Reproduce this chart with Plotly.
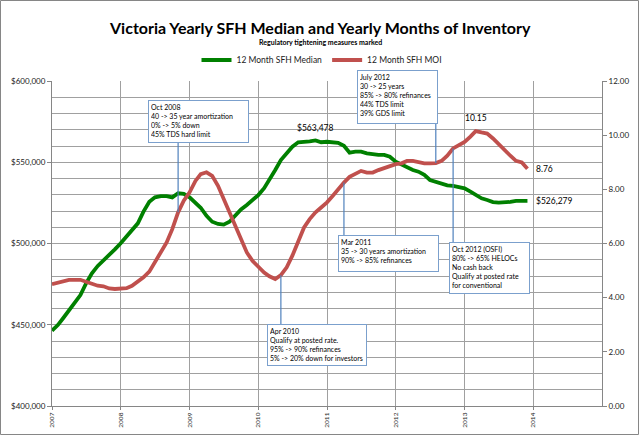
import pandas as pd
import plotly.graph_objects as go

# ---- data ----
months = pd.date_range("2007-01-01", periods=84, freq="MS")
median_k = [
    446.3, 449.8, 454.0, 459.0, 463.6, 468.3, 475.5, 481.6, 486.2, 489.4, 492.5, 496.4,
    500.1, 504.6, 508.3, 512.4, 519.6, 525.7, 528.4, 529.2, 529.2, 528.4, 530.9, 530.5,
    528.4, 525.1, 522.0, 517.0, 513.4, 512.0, 511.6, 513.4, 517.5, 521.0, 523.7, 526.8,
    529.8, 534.0, 539.1, 545.2, 551.4, 555.5, 559.6, 562.3, 562.5, 562.9, 563.478, 562.3,
    562.6, 562.3, 562.0, 560.2, 555.9, 556.5, 556.5, 555.5, 554.9, 554.5, 554.5, 553.4,
    550.3, 548.7, 546.6, 545.2, 544.2, 542.2, 539.1, 538.0, 536.6, 535.8, 535.4, 534.6,
    533.9, 531.9, 529.8, 527.8, 526.8, 525.5, 525.2, 525.2, 525.6, 526.2, 526.5, 526.279,
]
median = [v * 1000 for v in median_k]
moi = [
    4.50, 4.56, 4.62, 4.66, 4.66, 4.66, 4.59, 4.50, 4.44, 4.42, 4.34, 4.32,
    4.32, 4.35, 4.44, 4.59, 4.75, 4.96, 5.30, 5.67, 6.04, 6.53, 7.15, 7.58,
    7.89, 8.31, 8.56, 8.63, 8.50, 8.13, 7.64, 7.15, 6.59, 6.10, 5.67, 5.36,
    5.12, 4.93, 4.79, 4.69, 4.83, 5.12, 5.55, 6.10, 6.59, 6.90, 7.15, 7.33,
    7.52, 7.76, 8.01, 8.25, 8.46, 8.56, 8.68, 8.62, 8.62, 8.71, 8.78, 8.87,
    8.93, 8.96, 9.05, 9.05, 8.99, 8.96, 8.96, 8.97, 9.05, 9.24, 9.51, 9.63,
    9.75, 9.95, 10.15, 10.10, 10.06, 9.88, 9.67, 9.42, 9.24, 9.05, 8.99, 8.76,
]
year_ticks = [str(y) for y in range(2007, 2015)]

# callouts: (text lines, anchor month index on MOI curve)
callouts = [
    (["Oct 2008", "40 -> 35 year amortization", "0% -> 5% down", "45% TDS hard limit"], 22),
    (["July 2012", "30 -> 25 years", "85% -> 80% refinances", "44% TDS limit", "39% GDS limit"], 67),
    (["Apr 2010", "Qualify at posted rate.", "95% -> 90% refinances", "5% -> 20% down for investors"], 40),
    (["Mar 2011", "35 -> 30 years amortization", "90% -> 85% refinances"], 51),
    (["Oct 2012 (OSFI)", "80% -> 65% HELOCs", "No cash back", "Qualify at posted rate", "for conventional"], 70),
]
# box geometry in pixels: left, top, width, height ; connector end (box edge y)
box_px = [
    (148, 100, 101, 43, 143),
    (357, 70, 81, 54, 124),
    (267, 324, 100, 42, 324),
    (338, 235, 101, 37, 235),
    (449, 242, 81, 52, 242),
]

FONT = "Lato"
PL, PR, PT, PB = 52, 602, 81, 406  # plot area in px
W, H = 640, 436

def fx(px):
    return (px - PL) / (PR - PL)

def fy(py):
    return (PB - py) / (PB - PT)

fig = go.Figure()
fig.add_trace(go.Scatter(x=months, y=median, name="12 Month SFH Median", mode="lines",
                         line=dict(color="#008000", width=3.8), yaxis="y"))
fig.add_trace(go.Scatter(x=months, y=moi, name="12 Month SFH MOI", mode="lines",
                         line=dict(color="#C0504D", width=3.8), yaxis="y2"))

annotations = []
shapes = []
# title
annotations.append(dict(xref="paper", yref="paper", x=fx(320), y=fy(27), showarrow=False,
                        text="<b>Victoria Yearly SFH Median and Yearly Months of Inventory</b>",
                        font=dict(family=FONT, size=16, color="black"), xanchor="center", yanchor="middle"))
annotations.append(dict(xref="paper", yref="paper", x=fx(320), y=fy(42), showarrow=False,
                        text="<b>Regulatory tightening measures marked</b>",
                        font=dict(family=FONT, size=7, color="black"), xanchor="center", yanchor="middle"))

# callout boxes and connectors
for (lines, idx), (bl, bt, bw, bh, edge) in zip(callouts, box_px):
    annotations.append(dict(xref="paper", yref="paper", x=fx(bl), y=fy(bt), xanchor="left", yanchor="top",
                            showarrow=False, text="<br>".join(lines), align="left", valign="top",
                            width=bw - 6, height=bh - 6, borderpad=2, bordercolor="#7BA0CD", borderwidth=1,
                            bgcolor="white", font=dict(family=FONT, size=7, color="black")))
    edge_val = fy(edge) * 12
    shapes.append(dict(type="line", xref="x", yref="y2", x0=months[idx], x1=months[idx],
                       y0=moi[idx], y1=edge_val, line=dict(color="#4F81BD", width=1.2), layer="above"))

# value labels
ipk = median.index(max(median))
annotations.append(dict(x=months[ipk], y=median[ipk], xref="x", yref="y", showarrow=False,
                        text=f"${median[ipk]:,.0f}", yanchor="bottom", yshift=5,
                        font=dict(family=FONT, size=8.5, color="black")))
rpk = moi.index(max(moi))
annotations.append(dict(x=months[rpk], y=moi[rpk], xref="x", yref="y2", showarrow=False,
                        text=f"{moi[rpk]:.2f}", yanchor="bottom", yshift=6,
                        font=dict(family=FONT, size=8.5, color="black")))
annotations.append(dict(x=months[-1], y=moi[-1], xref="x", yref="y2", showarrow=False,
                        text=f"{moi[-1]:.2f}", xanchor="left", xshift=7,
                        font=dict(family=FONT, size=8.5, color="black")))
annotations.append(dict(x=months[-1], y=median[-1], xref="x", yref="y", showarrow=False,
                        text=f"${median[-1]:,.0f}", xanchor="left", xshift=7,
                        font=dict(family=FONT, size=8.5, color="black")))

# outer border
shapes.append(dict(type="rect", xref="paper", yref="paper", x0=fx(0.5), x1=fx(638.5), y0=fy(434.5), y1=fy(0.5),
                   line=dict(color="#868686", width=1), layer="below"))

grid = "#A0A0A0"
fig.update_layout(
    width=W, height=H,
    margin=dict(l=PL, r=W - PR, t=PT, b=H - PB, autoexpand=False),
    paper_bgcolor="white", plot_bgcolor="white",
    font=dict(family=FONT, size=8, color="#222"),
    showlegend=True,
    legend=dict(orientation="h", x=fx(322), xanchor="center", y=fy(60), yanchor="middle",
                font=dict(family=FONT, size=8.5, color="#222"), itemwidth=30, tracegroupgap=0),
    xaxis=dict(type="date", range=[months[0], pd.Timestamp("2015-01-01")],
               tickvals=[pd.Timestamp(f"{y}-01-01") for y in year_ticks], ticktext=year_ticks,
               tickangle=-90, tickfont=dict(size=6.5, color="#222"), showgrid=True, gridcolor=grid,
               gridwidth=1, showline=True, linecolor="#868686", ticks="outside", ticklen=3,
               tickcolor="#868686", zeroline=False, automargin=False),
    yaxis=dict(range=[400000, 600000], dtick=50000, tickformat="$,.0f", showgrid=True, gridcolor=grid,
               minor=dict(dtick=10000, showgrid=True, gridcolor=grid), showline=True, linecolor="#868686",
               ticks="outside", ticklen=4, tickcolor="#868686", tickfont=dict(size=8, color="#222"),
               zeroline=False, automargin=False),
    yaxis2=dict(range=[0, 12], dtick=2, tickformat=".2f", overlaying="y", side="right", showgrid=False,
                showline=True, linecolor="#868686", ticks="outside", ticklen=4, tickcolor="#868686",
                tickfont=dict(size=8, color="#222"), zeroline=False, automargin=False),
    annotations=annotations,
    shapes=shapes,
)

fig.write_html("out.html", config={"displayModeBar": False},
               post_script="document.body.style.margin='0';document.body.style.padding='0';"
                           "document.body.style.overflow='hidden';")
